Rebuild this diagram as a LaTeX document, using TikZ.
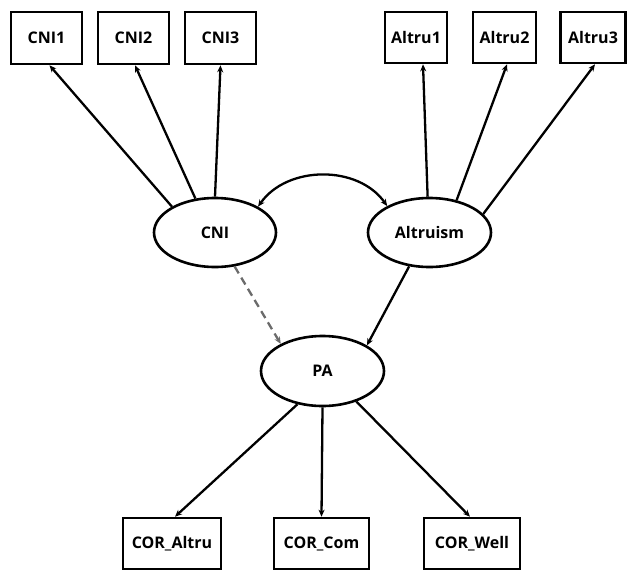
\documentclass[tikz,border=0pt]{standalone}
\usepackage{fontspec}
\setmainfont{Open Sans}
\usetikzlibrary{shapes.geometric,arrows.meta}
\begin{document}
\begin{tikzpicture}[x=1pt,y=1pt,
  obs/.style={draw,line width=2.6pt,rectangle,inner sep=0pt,minimum height=53pt,font=\fontsize{16}{18}\selectfont\bfseries},
  lat/.style={draw,line width=2.6pt,ellipse,inner sep=0pt,minimum width=122pt,minimum height=69pt,font=\fontsize{16}{18}\selectfont\bfseries},
  arr/.style={line width=2.3pt,-{Stealth[length=7pt,width=6pt]}},
  darr/.style={line width=2.3pt,{Stealth[length=7pt,width=6pt]}-{Stealth[length=7pt,width=6pt]}},
  dsh/.style={line width=2.3pt,draw=black!58,dash pattern=on 8pt off 5pt,-{Stealth[length=7pt,width=6pt]}}]
\useasboundingbox (0,0) rectangle (629,-571);
% observed indicators
\node[obs,minimum width=71pt,minimum height=52pt] (c1) at (46.5,-38) {CNI1};
\node[obs,minimum width=71pt,minimum height=52pt] (c2) at (133.5,-38) {CNI2};
\node[obs,minimum width=71pt,minimum height=52pt] (c3) at (220.5,-38) {CNI3};
\node[obs,minimum width=62pt,minimum height=51pt] (a1) at (416,-37.5) {Altru1};
\node[obs,minimum width=63pt,minimum height=51pt] (a2) at (504.5,-37.5) {Altru2};
\node[obs,minimum width=65pt,minimum height=51pt] (a3) at (593,-37.5) {Altru3};
\node[obs,minimum width=98pt,minimum height=51pt] (o1) at (172,-543.5) {COR\_Altru};
\node[obs,minimum width=95pt,minimum height=51pt] (o2) at (321.5,-543.5) {COR\_Com};
\node[obs,minimum width=96pt,minimum height=51pt] (o3) at (472,-543.5) {COR\_Well};
% latent
\node[lat] (cni) at (215,-232.5) {CNI};
\node[lat,minimum width=123pt] (alt) at (429.5,-232.5) {Altruism};
\node[lat,minimum width=123pt,minimum height=70pt] (pa) at (322.5,-371) {PA};
% loadings
\draw[arr] (cni.149) -- ([xshift=3pt]c1.south);
\draw[arr] (cni.120) -- ([xshift=1.5pt]c2.south);
\draw[arr] (cni.90) -- (c3.south);
\draw[arr] (alt.93) -- ([xshift=7pt]a1.south);
\draw[arr] (alt.50) -- ([xshift=2.5pt]a2.south);
\draw[arr] (alt.19) -- ([xshift=2pt]a3.south);
% covariance
\draw[darr] (cni.31) to[out=55,in=125] (alt.148);
% structural paths
\draw[dsh] (cni.300) -- (pa.147);
\draw[arr] (alt.239) -- (pa.30);
\draw[arr] (pa.233) -- ([xshift=3pt]o1.north);
\draw[arr] (pa.270) -- (o2.north);
\draw[arr] (pa.318) -- ([xshift=-2pt]o3.north);
\end{tikzpicture}
\end{document}
